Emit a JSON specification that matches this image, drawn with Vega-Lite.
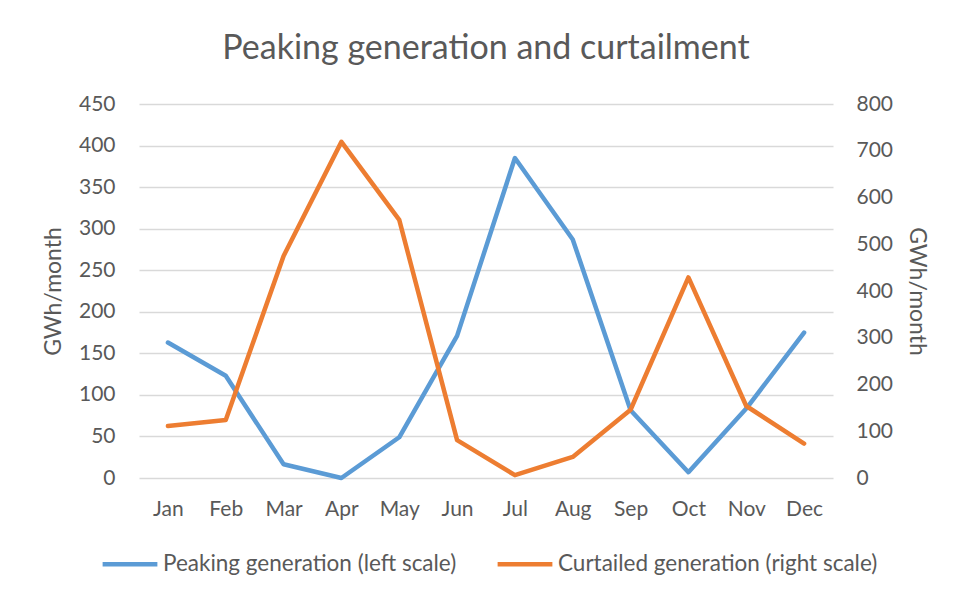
{
  "$schema": "https://vega.github.io/schema/vega-lite/v6.json",
  "width": 694,
  "height": 374,
  "autosize": {"type": "none"},
  "padding": {"left": 139, "top": 104, "right": 131, "bottom": 127},
  "background": "white",
  "config": {
    "font": "Lato",
    "view": {"stroke": null},
    "axis": {"labelFont": "Lato", "titleFont": "Lato", "labelColor": "#595959", "titleColor": "#595959", "labelFontSize": 21, "titleFontSize": 23, "titleFontWeight": "normal"}
  },
  "title": {
    "text": "Peaking generation and curtailment",
    "font": "Lato",
    "fontSize": 34,
    "fontWeight": "normal",
    "color": "#595959",
    "frame": "group",
    "anchor": "middle",
    "offset": 27
  },
  "data": {
    "values": [
      {"month": "Jan", "peak": 163, "curt": 111},
      {"month": "Feb", "peak": 123, "curt": 124},
      {"month": "Mar", "peak": 16.5, "curt": 475},
      {"month": "Apr", "peak": 0, "curt": 719},
      {"month": "May", "peak": 49, "curt": 552},
      {"month": "Jun", "peak": 171, "curt": 81},
      {"month": "Jul", "peak": 385, "curt": 6},
      {"month": "Aug", "peak": 287, "curt": 45},
      {"month": "Sep", "peak": 81.5, "curt": 146},
      {"month": "Oct", "peak": 7, "curt": 429},
      {"month": "Nov", "peak": 83.5, "curt": 154},
      {"month": "Dec", "peak": 175, "curt": 73.5}
    ]
  },
  "encoding": {
    "x": {
      "field": "month",
      "type": "ordinal",
      "sort": null,
      "scale": {"type": "point", "padding": 0.5},
      "axis": {"title": null, "labelAngle": 0, "ticks": false, "domain": false, "grid": false, "labelPadding": 20}
    }
  },
  "layer": [
    {
      "mark": {"type": "line", "strokeWidth": 4.5, "strokeCap": "round", "strokeJoin": "round"},
      "encoding": {
        "y": {
          "field": "peak",
          "type": "quantitative",
          "scale": {"domain": [0, 450]},
          "axis": {"title": "GWh/month", "values": [0, 50, 100, 150, 200, 250, 300, 350, 400, 450], "ticks": false, "domain": false, "grid": true, "gridColor": "#D9D9D9", "gridWidth": 1.3, "labelPadding": 24, "titlePadding": 13}
        },
        "color": {
          "datum": "Peaking generation (left scale)",
          "type": "nominal",
          "scale": {"domain": ["Peaking generation (left scale)", "Curtailed generation (right scale)"], "range": ["#5B9BD5", "#ED7D31"]},
          "legend": {
            "title": null,
            "orient": "none",
            "legendX": -39,
            "legendY": 430,
            "direction": "horizontal",
            "symbolType": "stroke",
            "symbolSize": 3000,
            "symbolStrokeWidth": 4.5,
            "labelFont": "Lato",
            "labelFontSize": 22.5,
            "labelColor": "#595959",
            "labelLimit": 500,
            "columnPadding": 31,
            "labelOffset": 3
          }
        }
      }
    },
    {
      "mark": {"type": "line", "strokeWidth": 4.5, "strokeCap": "round", "strokeJoin": "round"},
      "encoding": {
        "y": {
          "field": "curt",
          "type": "quantitative",
          "scale": {"domain": [0, 800]},
          "axis": {"title": "GWh/month", "orient": "right", "values": [0, 100, 200, 300, 400, 500, 600, 700, 800], "ticks": false, "domain": false, "grid": false, "labelPadding": 23, "titlePadding": 12}
        },
        "color": {"datum": "Curtailed generation (right scale)", "type": "nominal"}
      }
    }
  ],
  "resolve": {"scale": {"y": "independent"}}
}
